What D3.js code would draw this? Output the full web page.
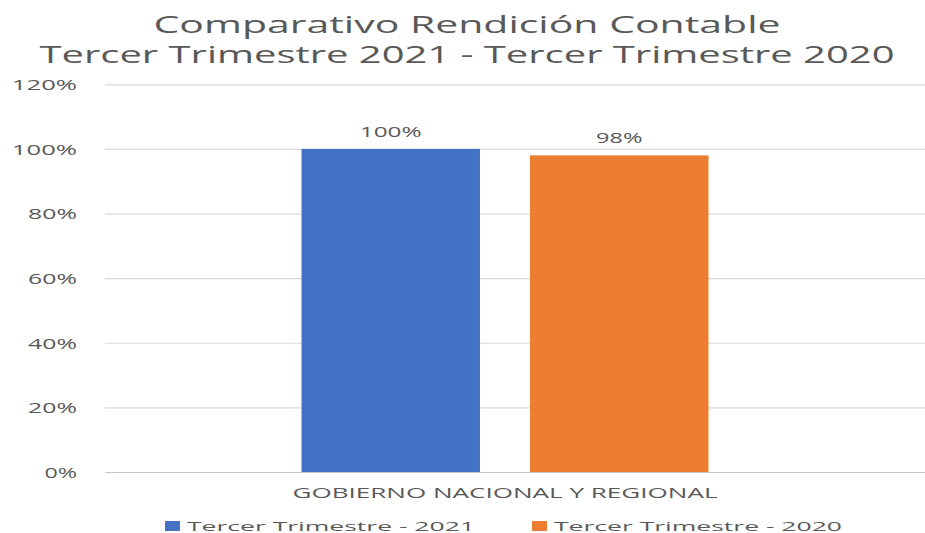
<!DOCTYPE html>
<html><head><meta charset="utf-8">
<script src="https://cdn.jsdelivr.net/npm/d3@7"></script>
<style>body{margin:0;background:#fff}svg{display:block}text{font-family:"Open Sans","DejaVu Sans",sans-serif;fill:#595959}</style>
</head><body>
<svg id="c" width="925" height="533"></svg>
<script>
const categories = ["GOBIERNO NACIONAL Y REGIONAL"];
const seriesNames = ["Tercer Trimestre - 2021", "Tercer Trimestre - 2020"];
const values2021 = [1.00];
const values2020 = [0.98];
const tickValues = [0, 0.2, 0.4, 0.6, 0.8, 1.0, 1.2];
const colors = ["#4472C4", "#ED7D31"];
const titleLines = ["Comparativo Rendición Contable", "Tercer Trimestre 2021 - Tercer Trimestre 2020"];

const svg = d3.select("#c");
const y = d3.scaleLinear().domain([0, 1.2]).range([472, 84.3]);
const x0 = d3.scaleBand().domain(categories).range([105, 905]).paddingInner(0).paddingOuter(0.4828);
const x1 = d3.scaleBand().domain(seriesNames).range([0, x0.bandwidth()]).paddingInner(0.219).paddingOuter(0);
const color = d3.scaleOrdinal().domain(seriesNames).range(colors);
const pct = d3.format(".0%");

// gridlines
const grid = svg.append("g").attr("transform", "translate(105,0)")
  .call(d3.axisLeft(y).tickValues(tickValues).tickSize(-820).tickFormat(""));
grid.select(".domain").remove();
grid.selectAll("line").attr("stroke", "#d9d9d9").attr("stroke-width", 1.2);
grid.selectAll(".tick").filter(d => d === 0).select("line").attr("stroke", "#c8c8c8");

// y labels
const yl = svg.append("g").attr("transform", "translate(77,0)")
  .call(d3.axisLeft(y).tickValues(tickValues).tickSize(0).tickPadding(0).tickFormat(pct));
yl.select(".domain").remove();
yl.selectAll("text").attr("font-size", 15).attr("fill", "#595959")
  .attr("x", 0).attr("dy", "0.35em").attr("text-anchor", "end")
  .attr("textLength", d => pct(d).length * 16.3).attr("lengthAdjust", "spacingAndGlyphs");

// bars
const data = categories.map((c, i) => ({ cat: c, vals: [values2021[i], values2020[i]] }));
const g = svg.append("g").selectAll("g").data(data).join("g")
  .attr("transform", d => `translate(${x0(d.cat)},0)`);
g.selectAll("rect").data(d => d.vals.map((v, j) => ({ key: seriesNames[j], v })))
  .join("rect")
  .attr("x", d => x1(d.key)).attr("width", x1.bandwidth())
  .attr("y", d => y(d.v)).attr("height", d => y(0) - y(d.v))
  .attr("fill", d => color(d.key));
g.selectAll("text.lbl").data(d => d.vals.map((v, j) => ({ key: seriesNames[j], v })))
  .join("text").attr("class", "lbl")
  .attr("x", d => x1(d.key) + x1.bandwidth() / 2)
  .attr("y", d => y(d.v) - 12)
  .attr("text-anchor", "middle").attr("font-size", 15)
  .attr("textLength", d => pct(d.v).length * 15.5).attr("lengthAdjust", "spacingAndGlyphs")
  .text(d => pct(d.v));

// category label
svg.append("g").selectAll("text").data(categories).join("text")
  .attr("x", d => x0(d) + x0.bandwidth() / 2).attr("y", 498)
  .attr("text-anchor", "middle").attr("font-size", 15)
  .attr("textLength", 425).attr("lengthAdjust", "spacingAndGlyphs")
  .text(d => d);

// title
const tl = [{t: titleLines[0], y: 33, w: 627}, {t: titleLines[1], y: 63, w: 855}];
svg.append("g").selectAll("text").data(tl).join("text")
  .attr("x", 467).attr("y", d => d.y).attr("text-anchor", "middle")
  .attr("font-size", 24).attr("textLength", d => d.w).attr("lengthAdjust", "spacingAndGlyphs")
  .text(d => d.t);

// legend
const legX = [165, 532];
const lg = svg.append("g").selectAll("g").data(seriesNames).join("g")
  .attr("transform", (d, i) => `translate(${legX[i]},521)`);
lg.append("rect").attr("width", 15).attr("height", 10).attr("fill", d => color(d));
lg.append("text").attr("x", 22).attr("y", 9.5).attr("font-size", 13.5)
  .attr("textLength", 288).attr("lengthAdjust", "spacingAndGlyphs").text(d => d);
</script>
</body></html>
